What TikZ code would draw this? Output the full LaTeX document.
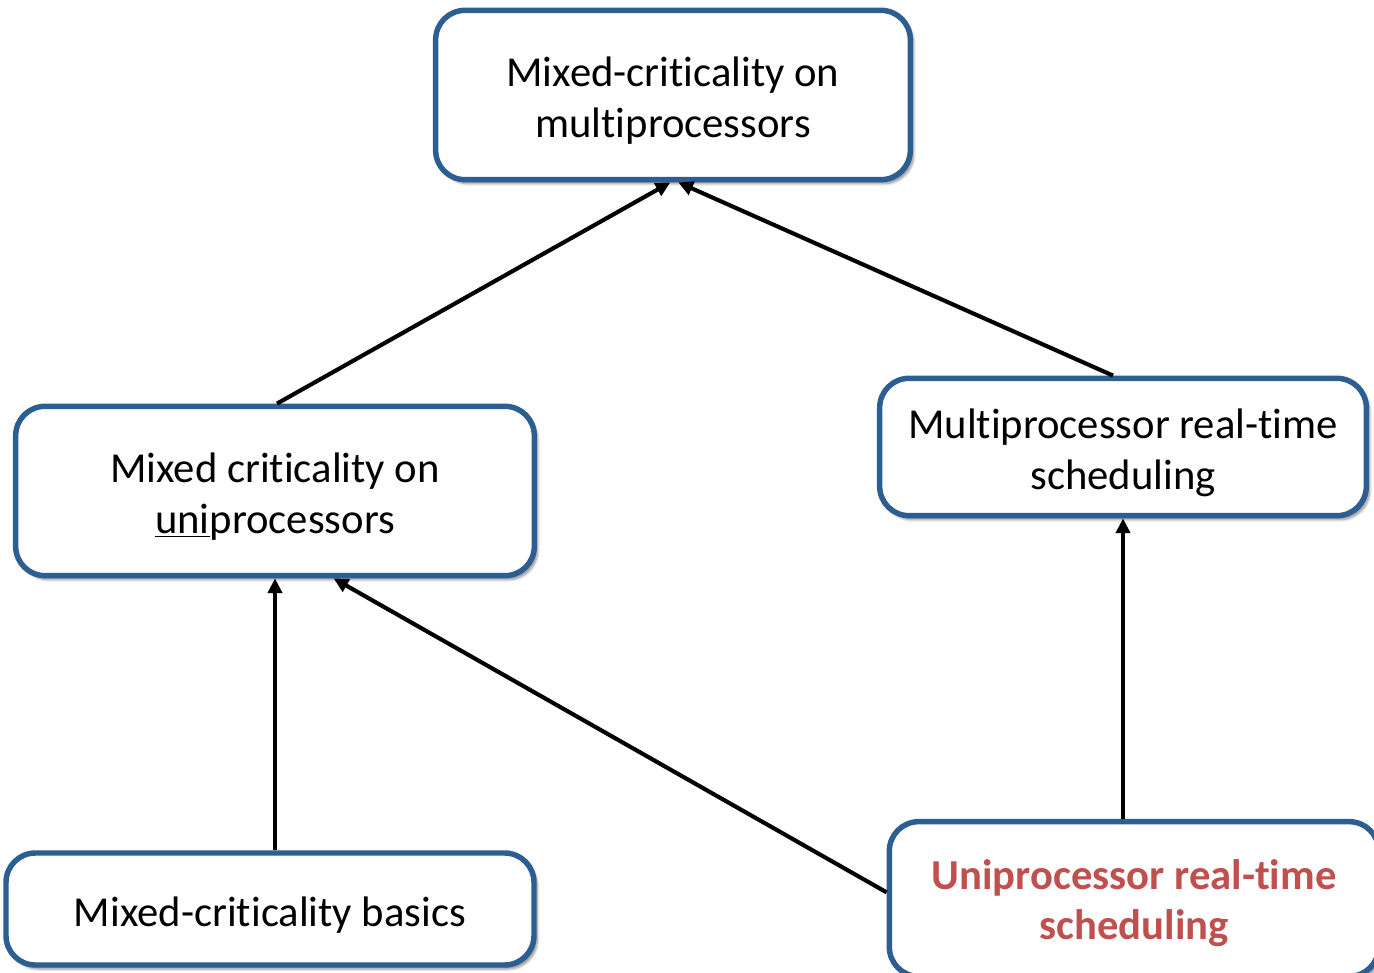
\documentclass[tikz,border=0pt]{standalone}
\usepackage{fontspec}
\setmainfont{Carlito}[Ligatures={NoCommon}]
\usetikzlibrary{arrows.meta,shadows.blur}
\definecolor{boxblue}{RGB}{44,94,145}
\definecolor{accentred}{RGB}{192,80,77}
% strut on the first line drops the text block slightly below the box centre
\newcommand{\lowstrut}{\rule{0pt}{0.97em}}
\tikzset{
  topic/.style={draw=boxblue, line width=4.1pt, rounded corners=22pt, fill=white,
    align=center, inner sep=0pt,
    font=\fontsize{32}{38}\selectfont,
    blur shadow={shadow xshift=2.5pt, shadow yshift=-3pt, shadow blur steps=6, shadow opacity=45}},
  dep/.style={line width=3.1pt, -{Triangle[length=11pt,width=10.5pt]}}
}
\begin{document}
\begin{tikzpicture}[x=0.75pt,y=-0.75pt]
  \useasboundingbox (0,0) rectangle (1374,973);
  % topics
  \node[topic, minimum width=356pt, minimum height=127pt] (mcmp) at (673,95)
    {\lowstrut Mixed-criticality on\\multiprocessors};
  \node[topic, minimum width=389pt, minimum height=127pt] (mcup) at (275,491)
    {\lowstrut Mixed criticality on\\\underline{uni}processors};
  \node[topic, minimum width=365pt, minimum height=103pt] (mprt) at (1123,447)
    {\lowstrut Multiprocessor real-time\\scheduling};
  \node[topic, minimum width=396pt, minimum height=84pt] (mcb) at (270,909)
    {\lowstrut Mixed-criticality basics};
  \node[topic, minimum width=367pt, minimum height=116pt, text=accentred,
        font=\fontsize{32}{38}\selectfont\bfseries] (uprt) at (1134,899)
    {\rule{0pt}{0.9em}Uniprocessor real-time\\scheduling};
  % dependencies
  \draw[dep] ([xshift=1.5pt]mcup.north) -- ([xshift=-2pt]mcmp.south);
  \draw[dep] ([xshift=-7.5pt]mprt.north) -- ([xshift=4pt]mcmp.south);
  \draw[dep] (mcb.north -| mcup.south) -- (mcup.south);
  \draw[dep] ([yshift=5pt]uprt.west) -- ([xshift=44pt]mcup.south);
  \draw[dep] (uprt.north -| mprt.south) -- (mprt.south);
\end{tikzpicture}
\end{document}
